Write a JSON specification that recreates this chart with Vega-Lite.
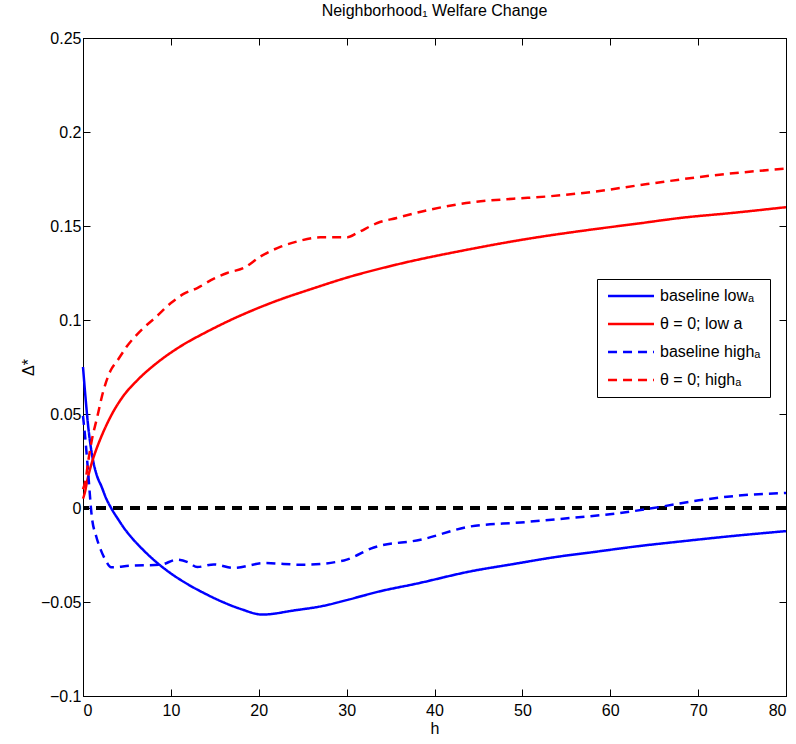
{
  "$schema": "https://vega.github.io/schema/vega-lite/v6.json",
  "width": 703,
  "height": 658,
  "autosize": {"type": "none"},
  "padding": {"left": 83, "top": 38, "right": 10, "bottom": 48},
  "background": "white",
  "config": {
    "font": "Liberation Sans",
    "view": {"stroke": "black", "strokeWidth": 1},
    "axis": {
      "grid": false,
      "domainColor": "black",
      "domainWidth": 1,
      "tickColor": "black",
      "tickSize": -7,
      "tickWidth": 1,
      "labelFont": "Liberation Sans",
      "labelFontSize": 16,
      "labelColor": "black",
      "titleFont": "Liberation Sans",
      "titleFontSize": 16,
      "titleFontWeight": "normal",
      "titleColor": "black"
    },
    "title": {"font": "Liberation Sans", "fontSize": 16, "fontWeight": "normal", "color": "black"}
  },
  "title": {"text": "Neighborhood₁ Welfare Change", "anchor": "middle", "frame": "group", "offset": 11},
  "data": {
    "values": [
      {"s": "baseline lowₐ", "h": 0, "v": 0.075},
      {"s": "baseline lowₐ", "h": 0.3, "v": 0.058},
      {"s": "baseline lowₐ", "h": 0.6, "v": 0.043},
      {"s": "baseline lowₐ", "h": 0.9, "v": 0.032},
      {"s": "baseline lowₐ", "h": 1.2, "v": 0.024},
      {"s": "baseline lowₐ", "h": 1.6, "v": 0.017},
      {"s": "baseline lowₐ", "h": 2.1, "v": 0.0115},
      {"s": "baseline lowₐ", "h": 2.6, "v": 0.0055},
      {"s": "baseline lowₐ", "h": 3.2, "v": 0.0},
      {"s": "baseline lowₐ", "h": 4.0, "v": -0.006},
      {"s": "baseline lowₐ", "h": 4.8, "v": -0.0115},
      {"s": "baseline lowₐ", "h": 5.4, "v": -0.015},
      {"s": "baseline lowₐ", "h": 7.0, "v": -0.023},
      {"s": "baseline lowₐ", "h": 8.4, "v": -0.029},
      {"s": "baseline lowₐ", "h": 10.0, "v": -0.0348},
      {"s": "baseline lowₐ", "h": 11.9, "v": -0.0405},
      {"s": "baseline lowₐ", "h": 14.0, "v": -0.0458},
      {"s": "baseline lowₐ", "h": 16.0, "v": -0.0502},
      {"s": "baseline lowₐ", "h": 18.0, "v": -0.0538},
      {"s": "baseline lowₐ", "h": 20.4, "v": -0.0567},
      {"s": "baseline lowₐ", "h": 24.0, "v": -0.0545},
      {"s": "baseline lowₐ", "h": 27.4, "v": -0.052},
      {"s": "baseline lowₐ", "h": 30.0, "v": -0.049},
      {"s": "baseline lowₐ", "h": 33.8, "v": -0.0443},
      {"s": "baseline lowₐ", "h": 38.0, "v": -0.0402},
      {"s": "baseline lowₐ", "h": 44.1, "v": -0.0337},
      {"s": "baseline lowₐ", "h": 49.0, "v": -0.0298},
      {"s": "baseline lowₐ", "h": 53.9, "v": -0.026},
      {"s": "baseline lowₐ", "h": 58.0, "v": -0.0235},
      {"s": "baseline lowₐ", "h": 63.0, "v": -0.0204},
      {"s": "baseline lowₐ", "h": 68.0, "v": -0.0178},
      {"s": "baseline lowₐ", "h": 73.7, "v": -0.015},
      {"s": "baseline lowₐ", "h": 80.0, "v": -0.0123},

      {"s": "θ = 0; low a", "h": 0, "v": 0.005},
      {"s": "θ = 0; low a", "h": 0.2, "v": 0.008},
      {"s": "θ = 0; low a", "h": 0.5, "v": 0.015},
      {"s": "θ = 0; low a", "h": 1.0, "v": 0.024},
      {"s": "θ = 0; low a", "h": 1.5, "v": 0.031},
      {"s": "θ = 0; low a", "h": 2.0, "v": 0.037},
      {"s": "θ = 0; low a", "h": 3.3, "v": 0.05},
      {"s": "θ = 0; low a", "h": 4.5, "v": 0.059},
      {"s": "θ = 0; low a", "h": 6.3, "v": 0.0685},
      {"s": "θ = 0; low a", "h": 8.5, "v": 0.0775},
      {"s": "θ = 0; low a", "h": 11.1, "v": 0.086},
      {"s": "θ = 0; low a", "h": 14.0, "v": 0.0935},
      {"s": "θ = 0; low a", "h": 16.8, "v": 0.1},
      {"s": "θ = 0; low a", "h": 20.0, "v": 0.1065},
      {"s": "θ = 0; low a", "h": 22.5, "v": 0.111},
      {"s": "θ = 0; low a", "h": 26.0, "v": 0.1165},
      {"s": "θ = 0; low a", "h": 30.0, "v": 0.1225},
      {"s": "θ = 0; low a", "h": 35.7, "v": 0.1295},
      {"s": "θ = 0; low a", "h": 43.3, "v": 0.137},
      {"s": "θ = 0; low a", "h": 50.9, "v": 0.1434},
      {"s": "θ = 0; low a", "h": 57.7, "v": 0.148},
      {"s": "θ = 0; low a", "h": 63.0, "v": 0.1512},
      {"s": "θ = 0; low a", "h": 68.0, "v": 0.1543},
      {"s": "θ = 0; low a", "h": 74.0, "v": 0.157},
      {"s": "θ = 0; low a", "h": 80.0, "v": 0.16},

      {"s": "baseline highₐ", "h": 0, "v": 0.049},
      {"s": "baseline highₐ", "h": 0.3, "v": 0.035},
      {"s": "baseline highₐ", "h": 0.6, "v": 0.018},
      {"s": "baseline highₐ", "h": 1.0, "v": -0.0045},
      {"s": "baseline highₐ", "h": 1.5, "v": -0.015},
      {"s": "baseline highₐ", "h": 2.0, "v": -0.022},
      {"s": "baseline highₐ", "h": 2.6, "v": -0.028},
      {"s": "baseline highₐ", "h": 3.2, "v": -0.0315},
      {"s": "baseline highₐ", "h": 5.4, "v": -0.0307},
      {"s": "baseline highₐ", "h": 8.8, "v": -0.0302},
      {"s": "baseline highₐ", "h": 10.7, "v": -0.0275},
      {"s": "baseline highₐ", "h": 12.0, "v": -0.029},
      {"s": "baseline highₐ", "h": 13.0, "v": -0.0314},
      {"s": "baseline highₐ", "h": 14.9, "v": -0.03},
      {"s": "baseline highₐ", "h": 17.2, "v": -0.0319},
      {"s": "baseline highₐ", "h": 20.6, "v": -0.0293},
      {"s": "baseline highₐ", "h": 25.1, "v": -0.0302},
      {"s": "baseline highₐ", "h": 29.7, "v": -0.0279},
      {"s": "baseline highₐ", "h": 33.1, "v": -0.021},
      {"s": "baseline highₐ", "h": 38.4, "v": -0.0169},
      {"s": "baseline highₐ", "h": 44.1, "v": -0.0098},
      {"s": "baseline highₐ", "h": 49.8, "v": -0.0077},
      {"s": "baseline highₐ", "h": 55.5, "v": -0.0053},
      {"s": "baseline highₐ", "h": 61.1, "v": -0.0027},
      {"s": "baseline highₐ", "h": 64.9, "v": 0.0},
      {"s": "baseline highₐ", "h": 70.6, "v": 0.0044},
      {"s": "baseline highₐ", "h": 74.4, "v": 0.0065},
      {"s": "baseline highₐ", "h": 80.0, "v": 0.008},

      {"s": "θ = 0; highₐ", "h": 0, "v": 0.01},
      {"s": "θ = 0; highₐ", "h": 0.3, "v": 0.015},
      {"s": "θ = 0; highₐ", "h": 0.6, "v": 0.025},
      {"s": "θ = 0; highₐ", "h": 1.0, "v": 0.036},
      {"s": "θ = 0; highₐ", "h": 1.6, "v": 0.048},
      {"s": "θ = 0; highₐ", "h": 2.3, "v": 0.062},
      {"s": "θ = 0; highₐ", "h": 3.1, "v": 0.0727},
      {"s": "θ = 0; highₐ", "h": 4.0, "v": 0.079},
      {"s": "θ = 0; highₐ", "h": 5.0, "v": 0.086},
      {"s": "θ = 0; highₐ", "h": 6.5, "v": 0.094},
      {"s": "θ = 0; highₐ", "h": 8.4, "v": 0.102},
      {"s": "θ = 0; highₐ", "h": 10.0, "v": 0.109},
      {"s": "θ = 0; highₐ", "h": 11.5, "v": 0.114},
      {"s": "θ = 0; highₐ", "h": 13.0, "v": 0.117},
      {"s": "θ = 0; highₐ", "h": 14.9, "v": 0.122},
      {"s": "θ = 0; highₐ", "h": 16.4, "v": 0.125},
      {"s": "θ = 0; highₐ", "h": 18.3, "v": 0.1277},
      {"s": "θ = 0; highₐ", "h": 20.2, "v": 0.1338},
      {"s": "θ = 0; highₐ", "h": 22.5, "v": 0.139},
      {"s": "θ = 0; highₐ", "h": 24.4, "v": 0.1418},
      {"s": "θ = 0; highₐ", "h": 27.0, "v": 0.144},
      {"s": "θ = 0; highₐ", "h": 30.1, "v": 0.144},
      {"s": "θ = 0; highₐ", "h": 31.2, "v": 0.1463},
      {"s": "θ = 0; highₐ", "h": 33.5, "v": 0.1516},
      {"s": "θ = 0; highₐ", "h": 35.7, "v": 0.1543},
      {"s": "θ = 0; highₐ", "h": 39.5, "v": 0.1587},
      {"s": "θ = 0; highₐ", "h": 44.5, "v": 0.1628},
      {"s": "θ = 0; highₐ", "h": 49.0, "v": 0.1645},
      {"s": "θ = 0; highₐ", "h": 52.8, "v": 0.1657},
      {"s": "θ = 0; highₐ", "h": 57.7, "v": 0.168},
      {"s": "θ = 0; highₐ", "h": 64.2, "v": 0.1723},
      {"s": "θ = 0; highₐ", "h": 71.8, "v": 0.177},
      {"s": "θ = 0; highₐ", "h": 80.0, "v": 0.1805}
    ]
  },
  "layer": [
    {
      "mark": {"type": "rule", "color": "black", "strokeWidth": 3, "strokeDash": [10, 7]},
      "encoding": {
        "y": {"datum": 0, "type": "quantitative", "axis": null, "scale": {"domain": [-0.1, 0.25], "nice": false, "zero": false}}
      }
    },
    {
      "mark": {"type": "line", "strokeWidth": 2.5, "interpolate": "monotone"},
      "encoding": {
        "x": {
          "field": "h", "type": "quantitative",
          "scale": {"domain": [0, 80], "nice": false, "zero": false},
          "axis": {"orient": "bottom", "values": [0, 10, 20, 30, 40, 50, 60, 70, 80], "title": "h", "labelPadding": 13, "titlePadding": 2}
        },
        "y": {
          "field": "v", "type": "quantitative",
          "scale": {"domain": [-0.1, 0.25], "nice": false, "zero": false},
          "axis": {"orient": "left", "values": [-0.1, -0.05, 0, 0.05, 0.1, 0.15, 0.2, 0.25], "format": ".2~f", "title": "Δ*", "labelPadding": 9, "titlePadding": 4}
        },
        "color": {
          "field": "s", "type": "nominal",
          "scale": {"domain": ["baseline lowₐ", "θ = 0; low a", "baseline highₐ", "θ = 0; highₐ"], "range": ["#0000ff", "#ff0000", "#0000ff", "#ff0000"]},
          "legend": {
            "title": null, "orient": "none", "legendX": 514, "legendY": 241,
            "strokeColor": "black", "fillColor": "white", "padding": 9, "rowPadding": 12,
            "symbolType": "M-4,0H4", "symbolSize": 132, "symbolStrokeWidth": 2.5, "symbolOffset": 17,
            "labelFontSize": 16, "labelOffset": 21, "labelColor": "black", "labelLimit": 300
          }
        },
        "strokeDash": {
          "field": "s", "type": "nominal",
          "scale": {"domain": ["baseline lowₐ", "θ = 0; low a", "baseline highₐ", "θ = 0; highₐ"], "range": [[1, 0], [1, 0], [9, 6], [9, 6]]},
          "legend": {
            "title": null, "orient": "none", "legendX": 514, "legendY": 241,
            "strokeColor": "black", "fillColor": "white", "padding": 9, "rowPadding": 12,
            "symbolType": "M-4,0H4", "symbolSize": 132, "symbolStrokeWidth": 2.5, "symbolOffset": 17,
            "labelFontSize": 16, "labelOffset": 21, "labelColor": "black", "labelLimit": 300
          }
        }
      }
    },
    {
      "mark": {"type": "point", "opacity": 0},
      "encoding": {
        "x": {"field": "h", "type": "quantitative", "scale": {"domain": [0, 80], "nice": false, "zero": false},
          "axis": {"orient": "top", "values": [0, 10, 20, 30, 40, 50, 60, 70, 80], "labels": false, "title": null}},
        "y": {"field": "v", "type": "quantitative", "scale": {"domain": [-0.1, 0.25], "nice": false, "zero": false},
          "axis": {"orient": "right", "values": [-0.1, -0.05, 0, 0.05, 0.1, 0.15, 0.2, 0.25], "labels": false, "title": null}}
      }
    }
  ],
  "resolve": {"axis": {"x": "independent", "y": "independent"}}
}
